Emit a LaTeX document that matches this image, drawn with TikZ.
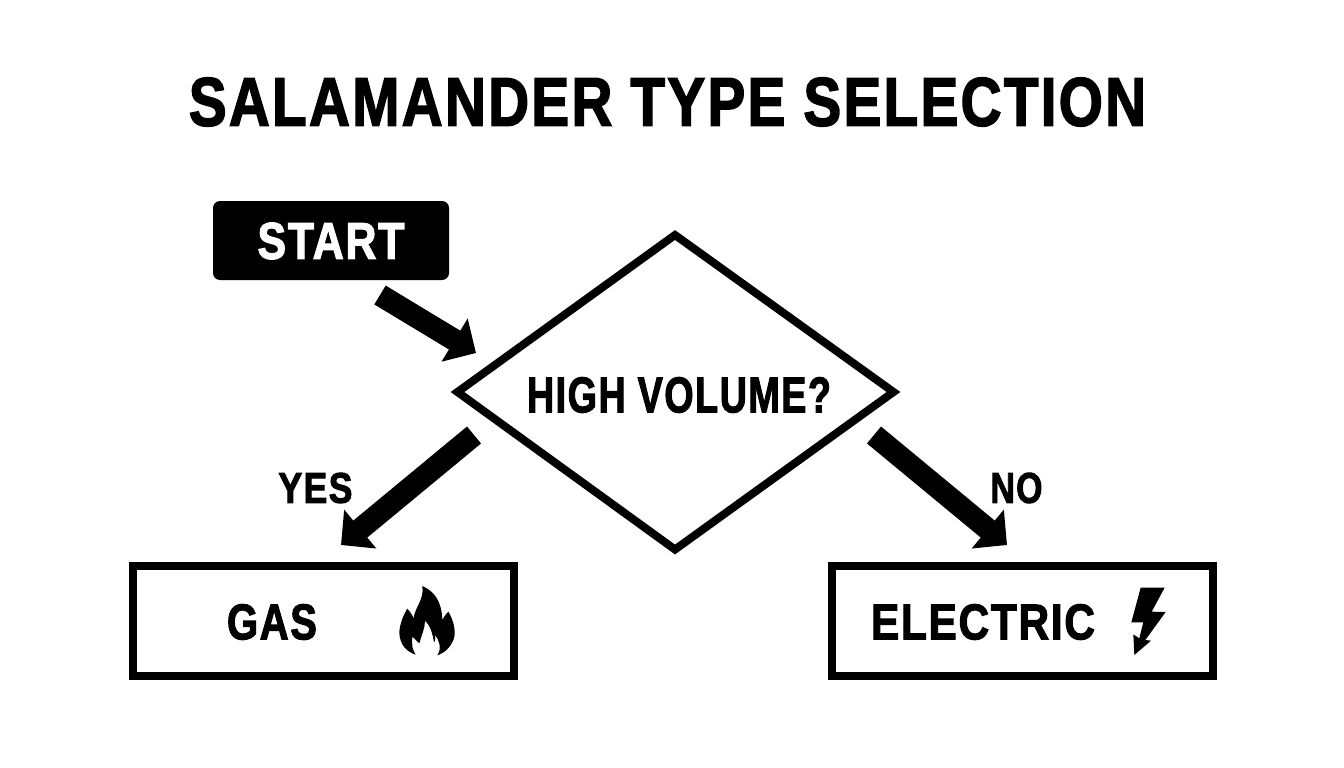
\documentclass[tikz,border=0pt]{standalone}
\usepackage{fontspec}
\setmainfont{Liberation Sans}[UprightFont=* Bold,UprightFeatures={FakeBold=2.4,LetterSpace=4}]
\usetikzlibrary{arrows.meta,shapes.geometric}
\definecolor{ink}{HTML}{000000}
\tikzset{
 lbl/.style={inner sep=0pt,text=ink},
 flowbox/.style={draw=ink,line width=8pt,minimum width=381.6pt,minimum height=110pt,inner sep=0pt},
 blockarrow/.style={draw=ink,line width=22pt,-{Triangle[length=25pt,width=49pt]}},
}
\begin{document}
\begin{tikzpicture}[x=1pt,y=-1pt]
\useasboundingbox (0,0) rectangle (1344,768);
\fill[white] (0,0) rectangle (1344,768);
\node[lbl] (title) at (667.5,102) {\resizebox{957pt}{48pt}{SALAMANDER TYPE SELECTION}};
\node[fill=ink,rounded corners=7pt,minimum width=236pt,minimum height=79pt,inner sep=0pt] (start) at (331,240.5) {};
\node[lbl,text=white] (starttxt) at (331,241) {\resizebox{147pt}{36pt}{START}};
\path[draw=ink,line width=8pt,miter limit=10] (675,235) -- (893.5,392) -- (675,549.5) -- (457.5,392) -- cycle;
\node[lbl] (q) at (679,395) {\resizebox{304pt}{35pt}{HIGH VOLUME?}};
\node[flowbox] (gas) at (323.6,621) {};
\node[flowbox] (elec) at (1022.6,621) {};
\node[lbl] (gastxt) at (272,622) {\resizebox{90pt}{35pt}{GAS}};
\node[lbl] (electxt) at (983,622) {\resizebox{224pt}{35pt}{ELECTRIC}};
\node[lbl] (yes) at (315.5,488) {\resizebox{74pt}{30pt}{YES}};
\node[lbl] (no) at (1016.5,488) {\resizebox{52pt}{30pt}{NO}};
\coordinate (a1) at (380,295); \coordinate (a1t) at (476,353);
\coordinate (a2) at (474,435); \coordinate (a2t) at (341,545);
\coordinate (a3) at (874,435); \coordinate (a3t) at (1007,545);
\draw[blockarrow] (a1) -- (a1t);
\draw[blockarrow] (a2) -- (a2t);
\draw[blockarrow] (a3) -- (a3t);
% flame
\begin{scope}[shift={(380,570)},x=0.3333pt,y=-0.3333pt]
\fill[ink] (127,48) .. controls (165,65) and (185,95) .. (187,150)
 .. controls (192,140) and (200,130) .. (205,125)
 .. controls (220,150) and (228,180) .. (222,205)
 .. controls (212,232) and (195,248) .. (172,256)
 .. controls (185,235) and (180,215) .. (165,195)
 .. controls (167,208) and (165,215) .. (162,218)
 .. controls (158,190) and (150,165) .. (135,152)
 .. controls (135,175) and (125,195) .. (118,220)
 .. controls (110,212) and (103,205) .. (97,200)
 .. controls (95,225) and (97,240) .. (107,254)
 .. controls (80,245) and (60,225) .. (58,190)
 .. controls (58,165) and (70,135) .. (82,116)
 .. controls (90,125) and (97,135) .. (101,145)
 .. controls (105,110) and (133,90) .. (127,48) -- cycle;
\end{scope}
% bolt
\begin{scope}[shift={(1100,570)},x=0.3333pt,y=-0.3333pt]
\fill[ink] (122,53) -- (194,53) -- (155,125) -- (197,126) -- (136,210) -- (153,212) -- (103,255) -- (100,193) -- (118,205) -- (130,157) -- (94,157) -- cycle;
\end{scope}
\end{tikzpicture}
\end{document}
